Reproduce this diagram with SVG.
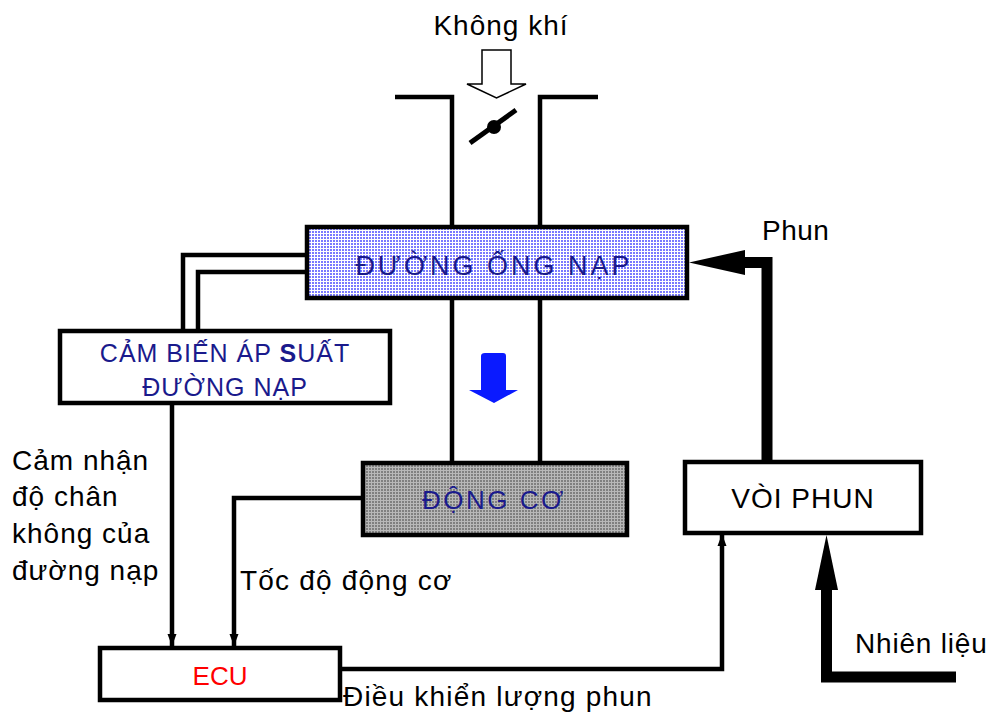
<svg xmlns="http://www.w3.org/2000/svg" width="996" height="716" viewBox="0 0 996 716">
<defs>
<pattern id="blueDots" width="3" height="3" patternUnits="userSpaceOnUse">
<rect width="3" height="3" fill="#ffffff"/>
<rect width="2" height="2" fill="#7a7aff"/>
</pattern>
<pattern id="grayDots" width="3" height="3" patternUnits="userSpaceOnUse">
<rect width="3" height="3" fill="#b8b8b8"/>
<rect width="2" height="2" fill="#808080"/>
</pattern>
<marker id="arr" markerUnits="userSpaceOnUse" markerWidth="12" markerHeight="16" refX="16" refY="6" viewBox="0 0 16 12" orient="auto">
<path d="M0,0 L16,6 L0,12 z" fill="#000"/>
</marker>
</defs>
<style>
.box{stroke:#000;stroke-width:4.5}
.ln{fill:none;stroke:#000;stroke-width:4.5}
.thk{fill:none;stroke:#000;stroke-width:11}
.lbl{font-family:"Liberation Sans",Arial,sans-serif;font-size:28px;fill:#000}
.btx{font-family:"Liberation Sans",Arial,sans-serif;fill:#1a1a8c;text-anchor:middle}
</style>

<g id="air">
<text class="lbl" x="501" y="35" text-anchor="middle" letter-spacing="1">Không khí</text>
<path d="M482,50 H511 V84 H526 L496.5,98 L467,84 H482 Z" fill="#fff" stroke="#000" stroke-width="1.5"/>
</g>

<g id="throttle">
<path class="ln" d="M395,97 H452 V227"/>
<path class="ln" d="M598,97 H540 V227"/>
<line x1="470" y1="143" x2="516" y2="110" stroke="#000" stroke-width="5"/>
<circle cx="494" cy="127" r="7" fill="#000"/>
</g>

<g id="manifold">
<rect class="box" x="307" y="227" width="380" height="71" fill="url(#blueDots)"/>
<text class="btx" x="494" y="275" font-size="27" letter-spacing="3">ĐƯỜNG ỐNG NẠP</text>
</g>

<g id="pipe">
<path class="ln" d="M452,298 V463"/>
<path class="ln" d="M540,298 V463"/>
<path d="M485,353 H503 Q506,353 506,356 V390 H518 L494,403 L469,390 H481 V356 Q481,353 485,353 Z" fill="#0a1aff"/>
</g>

<g id="sensor">
<rect class="box" x="60" y="331" width="330" height="72" fill="#fff"/>
<text class="btx" x="225" y="362" font-size="25" letter-spacing="1">CẢM BIẾN ÁP <tspan font-weight="bold">S</tspan>UẤT</text>
<text class="btx" x="225" y="396" font-size="25" letter-spacing="1">ĐƯỜNG NẠP</text>
</g>

<g id="engine">
<rect class="box" x="363" y="463" width="264" height="72" fill="url(#grayDots)"/>
<text class="btx" x="494" y="509" font-size="26" letter-spacing="2.5">ĐỘNG CƠ</text>
</g>

<g id="injector">
<rect class="box" x="685" y="462" width="236" height="71" fill="#fff"/>
<text class="lbl" x="803" y="508" text-anchor="middle" font-size="26" letter-spacing="1">VÒI PHUN</text>
</g>

<g id="ecu">
<rect class="box" x="100" y="648" width="240" height="52" fill="#fff"/>
<text x="220" y="685" text-anchor="middle" font-family="Liberation Sans, Arial, sans-serif" font-size="26" fill="#ff0000">ECU</text>
</g>

<g id="connectors">
<path class="ln" d="M307,255 H183 V331"/>
<path class="ln" d="M307,272 H198 V331"/>
<path class="ln" d="M172,403 V646" marker-end="url(#arr)"/>
<path class="ln" d="M363,498 H234 V646" marker-end="url(#arr)"/>
<path class="ln" d="M340,669 H722 V534" marker-end="url(#arr)"/>
<path class="thk" d="M767,462 V262.5 H740"/>
<polygon points="689,262.5 745,250 745,275" fill="#000"/>
<path class="thk" d="M956,677 H826.5 V585"/>
<polygon points="826.5,535 815,590 838,590" fill="#000"/>
</g>

<g id="labels">
<text class="lbl" x="762" y="240" letter-spacing="0.5">Phun</text>
<text class="lbl" x="12" y="470" letter-spacing="1">Cảm nhận</text>
<text class="lbl" x="12" y="506" letter-spacing="1">độ chân</text>
<text class="lbl" x="12" y="543" letter-spacing="1">không của</text>
<text class="lbl" x="12" y="580" letter-spacing="1">đường nạp</text>
<text class="lbl" x="240" y="590" letter-spacing="1.2">Tốc độ động cơ</text>
<text class="lbl" x="855" y="653" letter-spacing="0.8">Nhiên liệu</text>
<text class="lbl" x="343" y="706" letter-spacing="1.2">Điều khiển lượng phun</text>
</g>
</svg>
